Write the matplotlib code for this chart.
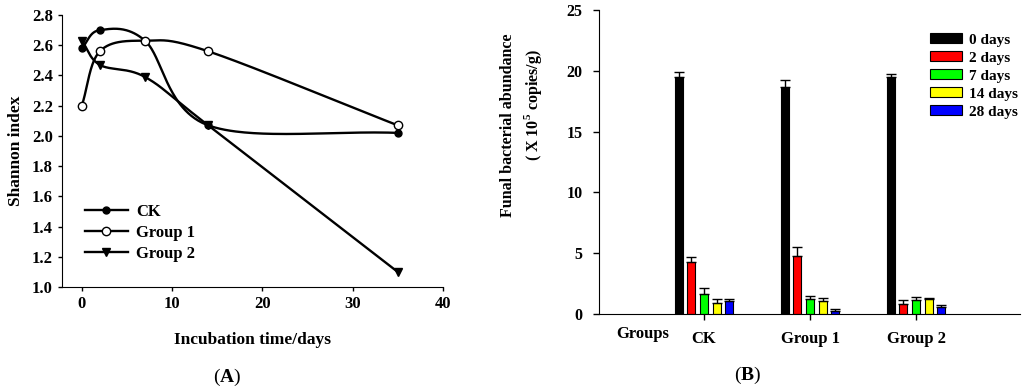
import matplotlib.pyplot as plt
import numpy as np

# panel A: Shannon index over incubation time
days = [0, 2, 7, 14, 35]
ck = [2.58, 2.70, 2.63, 2.07, 2.02]
group1 = [2.20, 2.56, 2.63, 2.56, 2.07]
group2 = [2.63, 2.47, 2.39, 2.07, 1.10]

# panel B: fungal abundance (x 10^5 copies/g)
groups = ['CK', 'Group 1', 'Group 2']
periods = ['0 days', '2 days', '7 days', '14 days', '28 days']
abund = [[19.5, 18.65, 19.45],
         [4.25, 4.75, 0.8],
         [1.65, 1.2, 1.15],
         [0.9, 1.1, 1.2],
         [1.05, 0.28, 0.6]]
errs = [[0.4, 0.55, 0.25],
        [0.4, 0.75, 0.35],
        [0.5, 0.28, 0.28],
        [0.35, 0.18, 0.12],
        [0.15, 0.12, 0.15]]
bar_colors = ['black', '#ff0000', '#00ff00', '#ffff00', '#0000ff']


def smooth(x, y, n=60):
    # Catmull-Rom curve through the points, only used to draw the line
    P = np.column_stack([x, y]).astype(float)
    P = np.vstack([2 * P[0] - P[1], P, 2 * P[-1] - P[-2]])
    t = np.linspace(0, 1, n)[:, None]
    h00 = 2 * t**3 - 3 * t**2 + 1
    h10 = t**3 - 2 * t**2 + t
    h01 = -2 * t**3 + 3 * t**2
    h11 = t**3 - t**2
    out = []
    for i in range(1, len(P) - 2):
        m0 = (P[i + 1] - P[i - 1]) / 2
        m1 = (P[i + 2] - P[i]) / 2
        out.append(h00 * P[i] + h10 * m0 + h01 * P[i + 1] + h11 * m1)
    seg = np.vstack(out)
    return seg[:, 0], seg[:, 1]


plt.rcParams['font.family'] = 'Liberation Serif'
plt.rcParams['font.weight'] = 'bold'
plt.rcParams['mathtext.fontset'] = 'custom'
plt.rcParams['mathtext.rm'] = 'Liberation Serif'
plt.rcParams['mathtext.bf'] = 'Liberation Serif:bold'

fig = plt.figure(figsize=(10.24, 3.9), dpi=100)

# ---- panel A ----
ax1 = fig.add_axes([0.0605, 0.264, 0.372, 0.6975])
series = [(ck, 'CK', dict(marker='o', mfc='black', ms=5)),
          (group1, 'Group 1', dict(marker='o', mfc='white', ms=6)),
          (group2, 'Group 2', dict(marker='v', mfc='black', ms=6))]
for vals, name, mk in series:
    xs, ys = smooth(days, vals)
    ax1.plot(xs, ys, color='black', lw=1.7)
    ax1.plot(days, vals, linestyle='none', color='black', mec='black', mew=1, **mk)
    ax1.plot([], [], color='black', lw=1.7, mec='black', label=name, **mk)

ax1.set_xlim(-2.2, 40)
ax1.set_ylim(1.0, 2.8)
ax1.set_xticks([0, 10, 20, 30, 40])
ax1.set_yticks(np.arange(1.0, 2.81, 0.2))
ax1.yaxis.set_major_formatter(plt.FormatStrFormatter('%.1f'))
ax1.spines['top'].set_visible(False)
ax1.spines['right'].set_visible(False)
ax1.tick_params(labelsize=12, length=3, width=1)
ax1.set_xlabel('Incubation time/days', fontsize=12.5, fontweight='bold', labelpad=14)
ax1.set_ylabel('Shannon index', fontsize=12.5, fontweight='bold', labelpad=6)
ax1.legend(loc='upper left', bbox_to_anchor=(0.06, 0.305), frameon=False,
           fontsize=12, handlelength=2.6, handletextpad=0.5, labelspacing=0.3,
           borderpad=0, borderaxespad=0)

# ---- panel B ----
ax2 = fig.add_axes([0.585, 0.195, 0.411, 0.7795])
pos = np.arange(len(groups))
step = 0.119
width = 0.074
for i, (vals, err) in enumerate(zip(abund, errs)):
    ax2.bar(pos + (i - 2) * step, vals, width, color=bar_colors[i], edgecolor='black',
            linewidth=0.8, label=periods[i],
            yerr=[np.zeros(len(err)), err], capsize=3.5,
            error_kw=dict(ecolor='black', elinewidth=1, capthick=1))

ax2.set_xlim(-0.99, 2.98)
ax2.set_ylim(0, 25)
ax2.set_yticks([0, 5, 10, 15, 20, 25])
ax2.set_xticks(pos)
ax2.set_xticklabels(groups)
ax2.spines['top'].set_visible(False)
ax2.spines['right'].set_visible(False)
ax2.tick_params(axis='y', labelsize=11.5, length=4, width=1, pad=8)
ax2.tick_params(axis='x', labelsize=12, length=4, width=1, pad=8)
fig.text(643 / 1024, 1 - 334 / 390, 'Groups', fontsize=12, ha='center', va='center')
ax2.legend(loc='upper left', bbox_to_anchor=(0.786, 0.924), frameon=False,
           fontsize=11, handlelength=2.1, handleheight=0.65, handletextpad=0.45,
           labelspacing=0.3, borderpad=0, borderaxespad=0)

fig.text(508 / 1024, 1 - 125 / 390, 'Funal bacterial abundance', rotation=90,
         fontsize=11.5, ha='center', va='center')
fig.text(533 / 1024, 1 - 105 / 390, r'( X 10$^{\mathbf{5}}$ copies/g)', rotation=90,
         fontsize=11.5, ha='center', va='center')

fig.text(227 / 1024, 1 - 377 / 390, r'($\mathbf{A}$)', fontsize=14, fontweight='normal',
         ha='center', va='center')
fig.text(748 / 1024, 1 - 375 / 390, r'($\mathbf{B}$)', fontsize=14, fontweight='normal',
         ha='center', va='center')

fig.savefig('out.png', dpi=100)
